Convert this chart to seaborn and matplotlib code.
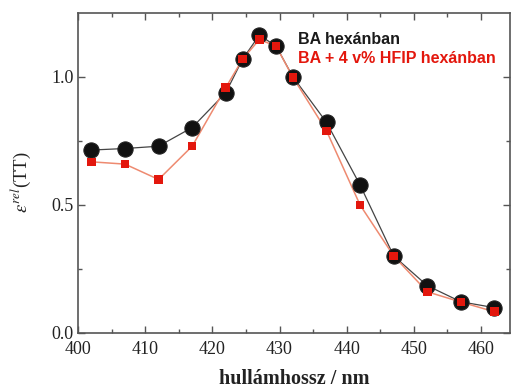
import matplotlib
matplotlib.use("Agg")
import matplotlib.pyplot as plt
import seaborn as sns
import pandas as pd

# Wavelengths (nm) and relative absorption of the TT band
wavelength = [402, 407, 412, 417, 422, 424.5, 427, 429.5, 432, 437, 442, 447, 452, 457, 462]
ba_hexane = [0.714, 0.720, 0.729, 0.802, 0.938, 1.069, 1.163, 1.120, 1.000, 0.822, 0.577, 0.300, 0.184, 0.121, 0.098]
ba_hfip_hexane = [0.668, 0.659, 0.599, 0.729, 0.958, 1.069, 1.146, 1.120, 0.998, 0.789, 0.499, 0.300, 0.160, 0.120, 0.082]

label_ba = "BA hexánban"
label_hfip = "BA + 4 v% HFIP hexánban"

x_ticks = [400, 410, 420, 430, 440, 450, 460]
y_ticks = [0.0, 0.5, 1.0]

df = pd.DataFrame({"wl": wavelength, "ba": ba_hexane, "hfip": ba_hfip_hexane})

sns.set_style("ticks")
plt.rcParams["font.family"] = ["Liberation Serif", "DejaVu Serif"]
plt.rcParams["mathtext.fontset"] = "stix"

fig = plt.figure(figsize=(5.13, 3.91), dpi=100)
ax = fig.add_axes([0.152, 0.149, 0.842, 0.818])

black_col = "#111111"
red_col = "#e3170d"
red_line = "#ee8a70"

sns.lineplot(data=df, x="wl", y="ba", ax=ax, color="#444444", lw=0.9, sort=True)
sns.lineplot(data=df, x="wl", y="hfip", ax=ax, color=red_line, lw=1.1, sort=True)
sns.scatterplot(data=df, x="wl", y="ba", ax=ax, color=black_col, marker="o", s=120,
                edgecolor="#222222", linewidth=0.8, zorder=3)
sns.scatterplot(data=df, x="wl", y="hfip", ax=ax, color=red_col, marker="s", s=38,
                edgecolor="none", zorder=4)

ax.set_xlim(400, 464.3)
ax.set_ylim(0, 1.25)
ax.set_xticks(x_ticks)
ax.set_yticks(y_ticks)
ax.set_xticklabels([str(t) for t in x_ticks])
ax.set_yticklabels([f"{t:.1f}" for t in y_ticks])
ax.set_xticks([405, 415, 425, 435, 445, 455], minor=True)
ax.set_yticks([0.25, 0.75], minor=True)

spine_col = "#555555"
for s in ax.spines.values():
    s.set_visible(True)
    s.set_color(spine_col)
    s.set_linewidth(1.2)
ax.tick_params(which="both", direction="in", top=True, right=True, color=spine_col,
               labelsize=13, labelcolor="#222222", width=1.0)
ax.tick_params(which="major", length=5)
ax.tick_params(which="minor", length=3)
ax.tick_params(axis="x", pad=6)
ax.tick_params(axis="y", pad=3)

ax.set_xlabel("hullámhossz / nm", fontsize=14.5, fontweight="bold", color="#222222", labelpad=8)
ax.set_ylabel(r"$\varepsilon^{rel}$(TT)", fontsize=13.5, color="#222222")
ax.yaxis.set_label_coords(-0.105, 0.47)

ax.text(0.51, 0.917, label_ba, transform=ax.transAxes, fontsize=11.5, fontweight="bold",
        family=["Liberation Sans", "DejaVu Sans"], color="#1a1a1a", va="center")
ax.text(0.51, 0.857, label_hfip, transform=ax.transAxes, fontsize=11.5, fontweight="bold",
        family=["Liberation Sans", "DejaVu Sans"], color=red_col, va="center")

fig.savefig("out.png", dpi=100)
